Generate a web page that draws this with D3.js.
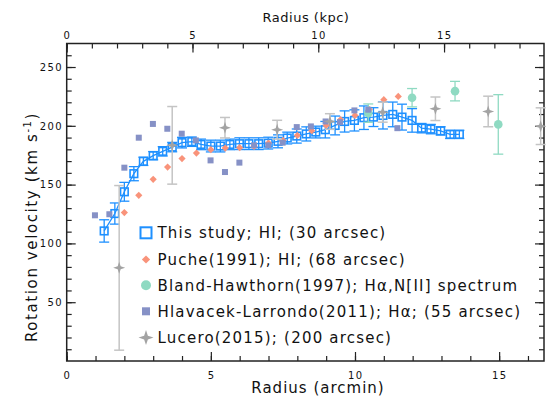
<!DOCTYPE html>
<html><head><meta charset="utf-8">
<script src="https://cdn.jsdelivr.net/npm/d3@7"></script>
<style>
html,body{margin:0;padding:0;background:#fff;}
svg text{font-family:"DejaVu Sans",sans-serif;fill:#111;}
</style></head>
<body><svg id="c" width="546" height="408"></svg>
<script>
// ---- data (radius in arcmin, velocity in km/s) ----
const studyR = [1.30,1.67,2.00,2.33,2.66,3.00,3.33,3.66,4.00,4.34,4.66,5.00,5.33,5.66,5.99,6.32,6.66,6.99,7.33,7.65,7.98,8.31,8.64,8.97,9.31,9.64,9.98,10.31,10.64,10.97,11.31,11.63,11.98,12.31,12.63,12.97,13.30,13.62];
const studyV = [110.6,125.4,143.9,159.3,169.8,174.6,178.3,181.9,185.7,186.5,184.2,182.8,182.8,184.2,184.8,184.8,184.8,185.3,186.8,189.6,191.3,193.1,194.7,196.7,200.3,203.7,204.6,206.9,207.4,208.8,209.7,207.4,204.6,198.0,197.2,195.7,192.7,192.7];
const studyE = [9.5,9,8,6,3.5,3.5,4,4,4.5,4,4.5,5,5,4.5,5,5,5,5,5.5,5,6,6,5,7,8,9,9,10,8,11.5,10.5,11,10,4,4,3.5,3.5,3.5];

const pucheR = [2.0,2.5,3.0,3.5,4.0,4.5,5.0,5.5,6.0,6.5,7.0,7.5,8.0,8.5,9.0,9.5,10.0,10.5,11.0,11.5];
const pucheV = [126.2,140.9,154.5,164.9,172.1,176.8,179.7,181.1,181.4,182.5,185.3,187.6,191.8,195.8,200.3,205.2,208.8,213.7,222.2,225.0];

const blandR = [10.46,11.98,13.47,14.97];
const blandV = [210.8,223.9,229.5,201.2];
const blandE = [7.8,7.8,8.3,25.3];

const hlavR = [0.98,1.48,2.0,2.5,2.99,3.49,3.99,4.48,4.99,5.49,5.99,6.5,6.99,7.49,7.98,8.47,8.98,9.48,9.98,10.46,11.47];
const hlavV = [123.9,124.8,164.4,189.9,201.6,197.5,193.3,187.6,170.6,160.7,168.7,183.4,183.4,185.7,198.9,199.5,203.7,203.1,213.1,213.7,198.0];

const luceroR = [1.82,3.66,5.49,7.30,9.13,10.96,12.79,14.62,16.44];
const luceroV = [79.2,183.4,198.4,196.7,203.7,211.6,214.5,212.2,199.7];
const luceroE = [70,33,8.7,8,6.6,8.5,10,13,15.6];

const xTicks = [0,5,10,15];
const kpcTicks = [0,5,10,15];
const yTicks = [50,100,150,200,250];
const kpcPerArcmin = 1.146;

const legendLabels = [
  "This study; HI; (30 arcsec)",
  "Puche(1991); HI; (68 arcsec)",
  "Bland-Hawthorn(1997); Hα,N[II] spectrum",
  "Hlavacek-Larrondo(2011); Hα; (55 arcsec)",
  "Lucero(2015); (200 arcsec)"
];

// ---- colours ----
const cBlue = "#1e90ff", cOrange = "#f9937a", cTeal = "#8fdac2", cSlate = "#8691c6", cGray = "#a3a3a3", cGrayBar = "#c4c4c4";

const svg = d3.select("#c");
const L = 66.7, R = 544, T = 43.5, B = 361;
const x = d3.scaleLinear().domain([0, 16.556]).range([L, R]);
const xk = d3.scaleLinear().domain([0, 16.556*kpcPerArcmin]).range([L, R]);
const y = d3.scaleLinear().domain([0, 270]).range([B, T]);

const gAx = svg.append("g");
function tickStyle(g){ g.select(".domain").remove(); g.selectAll("line").attr("stroke","#222").attr("stroke-width",1.2); g.selectAll("text").remove(); }

// bottom
gAx.append("g").attr("transform",`translate(0,${B})`).call(d3.axisTop(x).tickValues(d3.range(0,17,1)).tickSize(5)).call(tickStyle);
gAx.append("g").attr("transform",`translate(0,${B})`).call(d3.axisTop(x).tickValues(xTicks).tickSize(9)).call(tickStyle);
// top
gAx.append("g").attr("transform",`translate(0,${T})`).call(d3.axisBottom(xk).tickValues(d3.range(0,19,1)).tickSize(5)).call(tickStyle);
gAx.append("g").attr("transform",`translate(0,${T})`).call(d3.axisBottom(xk).tickValues(kpcTicks).tickSize(9)).call(tickStyle);
// left
gAx.append("g").attr("transform",`translate(${L},0)`).call(d3.axisRight(y).tickValues(d3.range(10,270,10)).tickSize(5)).call(tickStyle);
gAx.append("g").attr("transform",`translate(${L},0)`).call(d3.axisRight(y).tickValues(yTicks).tickSize(9)).call(tickStyle);
// right
gAx.append("g").attr("transform",`translate(${R},0)`).call(d3.axisLeft(y).tickValues(d3.range(10,270,10)).tickSize(5)).call(tickStyle);
gAx.append("g").attr("transform",`translate(${R},0)`).call(d3.axisLeft(y).tickValues(yTicks).tickSize(9)).call(tickStyle);

// frame
svg.append("rect").attr("x",L).attr("y",T).attr("width",R-L).attr("height",B-T)
  .attr("fill","none").attr("stroke","#222").attr("stroke-width",1.5);

// tick labels
const lab = {"font-size":"10px","letter-spacing":"1.4px"};
function applyAttrs(sel,o){ for(const k in o) sel.style(k,o[k]); return sel; }
applyAttrs(svg.append("g").selectAll("text").data(xTicks).join("text")
  .attr("x",d=>x(d)+0.7).attr("y",378.5).attr("text-anchor","middle").text(d=>d),lab);
applyAttrs(svg.append("g").selectAll("text").data(kpcTicks).join("text")
  .attr("x",d=>xk(d)+0.7).attr("y",39).attr("text-anchor","middle").text(d=>d),lab);
applyAttrs(svg.append("g").selectAll("text").data(yTicks).join("text")
  .attr("x",63).attr("y",d=>y(d)+3.7).attr("text-anchor","end").text(d=>d),lab);

// axis titles
svg.append("text").attr("x",318).attr("y",393).attr("text-anchor","middle")
  .style("font-size","15px").style("letter-spacing","1px").text("Radius (arcmin)");
svg.append("text").attr("x",306).attr("y",21.5).attr("text-anchor","middle")
  .style("font-size","13px").style("letter-spacing","0.5px").text("Radius (kpc)");
const yt = svg.append("text").attr("transform","translate(37,227) rotate(-90)").attr("text-anchor","middle")
  .style("font-size","15px").style("letter-spacing","1.6px");
yt.append("tspan").text("Rotation velocity (km s");
yt.append("tspan").attr("dy",-6).style("font-size","10px").text("-1");
yt.append("tspan").attr("dy",6).text(")");

// ---- marks ----
const plot = svg.append("g");
function errBars(g, xs, ys, es, color, cap, w){
  const idx = d3.range(xs.length);
  g.selectAll(null).data(idx).join("line")
    .attr("x1",i=>x(xs[i])).attr("x2",i=>x(xs[i])).attr("y1",i=>y(ys[i]-es[i])).attr("y2",i=>y(ys[i]+es[i]))
    .attr("stroke",color).attr("stroke-width",w);
  for (const s of [-1,1]) {
    g.selectAll(null).data(idx).join("line")
      .attr("x1",i=>x(xs[i])-cap).attr("x2",i=>x(xs[i])+cap)
      .attr("y1",i=>y(ys[i]+s*es[i])).attr("y2",i=>y(ys[i]+s*es[i]))
      .attr("stroke",color).attr("stroke-width",w);
  }
}

// This study
const gS = plot.append("g");
gS.append("path").datum(d3.range(studyR.length))
  .attr("d",d3.line().x(i=>x(studyR[i])).y(i=>y(studyV[i])))
  .attr("fill","none").attr("stroke",cBlue).attr("stroke-width",1.3);
errBars(gS, studyR, studyV, studyE, cBlue, 5, 1.3);
gS.selectAll("rect").data(d3.range(studyR.length)).join("rect")
  .attr("x",i=>x(studyR[i])-3.8).attr("y",i=>y(studyV[i])-3.8).attr("width",7.6).attr("height",7.6)
  .attr("fill","none").attr("stroke",cBlue).attr("stroke-width",1.6);

// Puche
const diamond = d3.symbol().type(d3.symbolDiamond2 || d3.symbolDiamond).size(40);
plot.append("g").selectAll("path").data(d3.range(pucheR.length)).join("path")
  .attr("transform",i=>`translate(${x(pucheR[i])},${y(pucheV[i])}) rotate(0)`)
  .attr("d",d3.symbol().type(d3.symbolSquare).size(26)).attr("transform",i=>`translate(${x(pucheR[i])},${y(pucheV[i])}) rotate(45)`)
  .attr("fill",cOrange);

// Bland-Hawthorn
const gB = plot.append("g");
errBars(gB, blandR, blandV, blandE, cTeal, 5, 1.3);
gB.selectAll("circle").data(d3.range(blandR.length)).join("circle")
  .attr("cx",i=>x(blandR[i])).attr("cy",i=>y(blandV[i])).attr("r",4.3).attr("fill",cTeal);

// Hlavacek-Larrondo
plot.append("g").selectAll("rect").data(d3.range(hlavR.length)).join("rect")
  .attr("x",i=>x(hlavR[i])-3).attr("y",i=>y(hlavV[i])-3).attr("width",6).attr("height",6).attr("fill",cSlate);

// Lucero
const star = "M0,-6 L1.5,-1.5 L6,0 L1.5,1.5 L0,6 L-1.5,1.5 L-6,0 L-1.5,-1.5 Z";
const gL = plot.append("g");
errBars(gL, luceroR, luceroV, luceroE, cGrayBar, 5, 1.5);
gL.selectAll("path").data(d3.range(luceroR.length)).join("path")
  .attr("transform",i=>`translate(${x(luceroR[i])},${y(luceroV[i])})`).attr("d",star).attr("fill",cGray);

// ---- legend ----
const lg = svg.append("g");
const rowY = [238.3,264.5,290.7,316.8,343];
const mx = 146;
lg.append("rect").attr("x",mx-5.5).attr("y",rowY[0]-11).attr("width",11).attr("height",11)
  .attr("fill","none").attr("stroke",cBlue).attr("stroke-width",2);
lg.append("path").attr("transform",`translate(${mx},${rowY[1]-5}) rotate(45)`)
  .attr("d",d3.symbol().type(d3.symbolSquare).size(34)).attr("fill",cOrange);
lg.append("circle").attr("cx",mx).attr("cy",rowY[2]-5.5).attr("r",5).attr("fill",cTeal);
lg.append("rect").attr("x",mx-4).attr("y",rowY[3]-9.5).attr("width",8).attr("height",8).attr("fill",cSlate);
lg.append("path").attr("transform",`translate(${mx},${rowY[4]-5.5}) scale(1.25)`).attr("d",star).attr("fill",cGray);
lg.selectAll("text").data(legendLabels).join("text")
  .attr("x",157.5).attr("y",(d,i)=>rowY[i]).style("font-size","15px").style("letter-spacing","1.2px")
  .text(d=>d);
</script></body></html>
